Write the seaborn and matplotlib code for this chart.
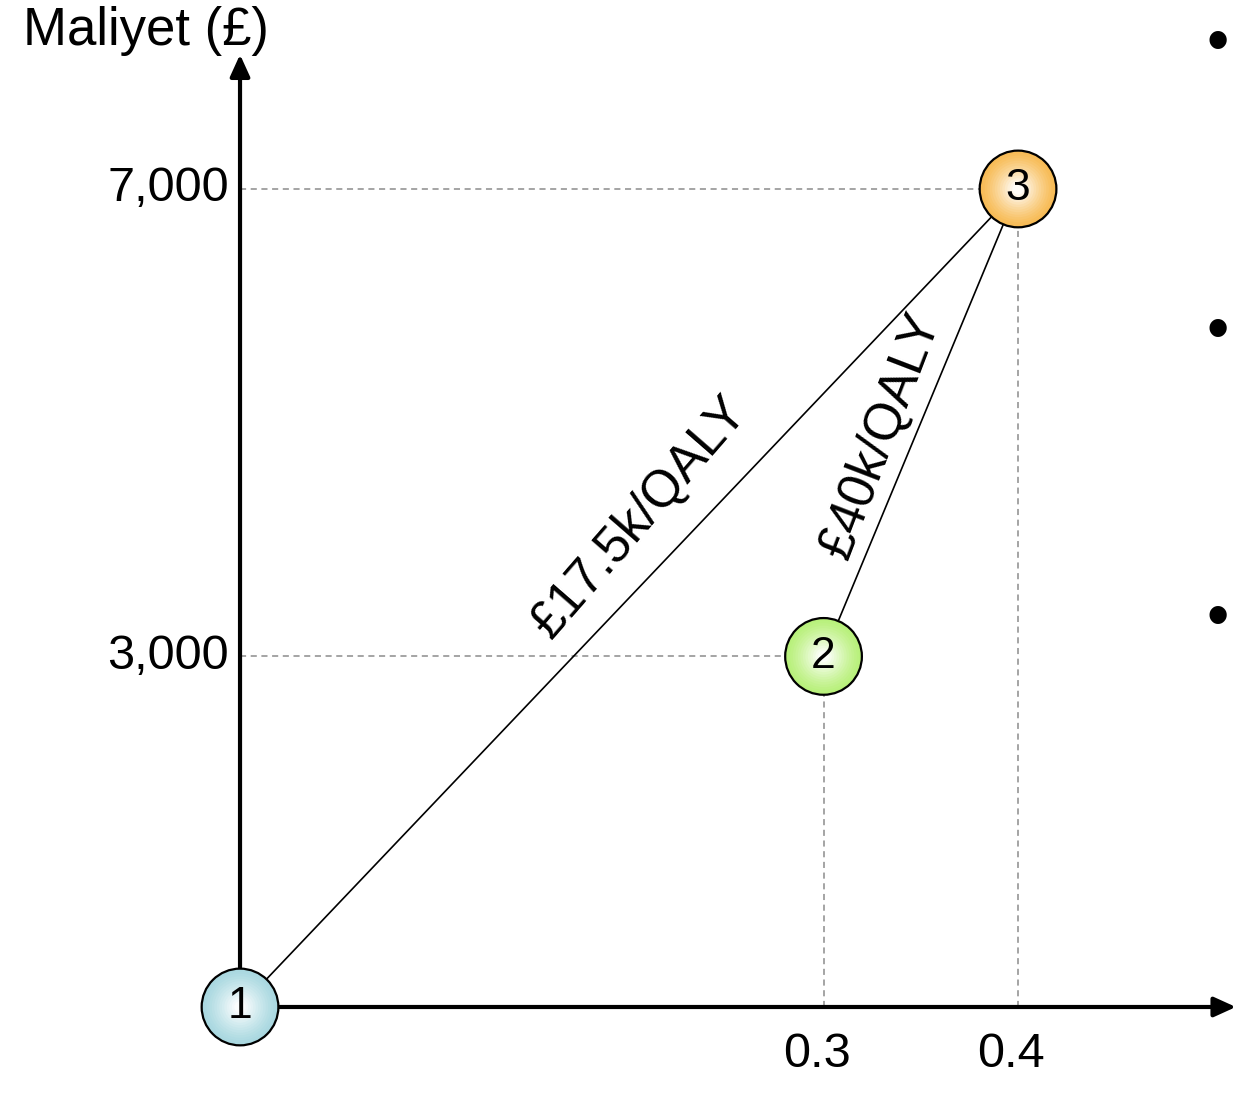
import numpy as np
import pandas as pd
import matplotlib
matplotlib.use("Agg")
import matplotlib.pyplot as plt
import seaborn as sns
from matplotlib.colors import to_rgb

# ---- data ----
strategies = ["1", "2", "3"]
qaly = [0.0, 0.3, 0.4]
cost = [0, 3000, 7000]
fill_colors = ["#a9d8e0", "#b8f07a", "#f7bb55"]
xticks = [0.3, 0.4]
xtick_labels = ["0.3", "0.4"]
yticks = [3000, 7000]
ytick_labels = ["3,000", "7,000"]
icer_pairs = [(0, 2), (1, 2)]
icer_labels = ["£17.5k/QALY", "£40k/QALY"]
y_title = "Maliyet (£)"

sns.set_theme(style="white")
plt.rcParams["font.family"] = ["Liberation Sans", "DejaVu Sans"]
plt.rcParams["text.color"] = "black"

df = pd.DataFrame({"strategy": strategies, "qaly": qaly, "cost": cost})

fig = plt.figure(figsize=(12.39, 11.02), dpi=100)
ax = fig.add_axes([0, 0, 1, 1])
ax.set_xlim(-0.1234, 0.5136)
ax.set_ylim(-813, 8617)
ax.axis("off")

# axes with arrows
ax.annotate("", xy=(0.512, 0), xytext=(0, 0),
            arrowprops=dict(arrowstyle="-|>,head_length=1.1,head_width=0.5",
                            color="black", lw=3, shrinkA=0, shrinkB=0))
ax.annotate("", xy=(0, 8150), xytext=(0, 0),
            arrowprops=dict(arrowstyle="-|>,head_length=1.1,head_width=0.5",
                            color="black", lw=3, shrinkA=0, shrinkB=0))

# dashed guide lines
for x, y in zip(df.qaly[1:], df.cost[1:]):
    ax.plot([0, x], [y, y], ls=(0, (4, 3)), color="#8c8c8c", lw=1.1, zorder=1)
    ax.plot([x, x], [0, y], ls=(0, (4, 3)), color="#8c8c8c", lw=1.1, zorder=1)

# connecting lines
for (i, j) in icer_pairs:
    ax.plot([qaly[i], qaly[j]], [cost[i], cost[j]], color="black", lw=1.2, zorder=2)

# circles with radial-ish gradient
base_size = 3050
n_layers = 14
for k in range(n_layers):
    t = k / (n_layers - 1)
    frac = 1 - 0.85 * t
    cols = []
    for c in fill_colors:
        rgb = np.array(to_rgb(c))
        cols.append(tuple(rgb + (1 - rgb) * (t ** 1.3) * 0.95))
    sns.scatterplot(data=df, x="qaly", y="cost", hue="strategy", palette=cols,
                    s=base_size * frac ** 2,
                    edgecolor="black" if k == 0 else "none",
                    linewidth=1.6 if k == 0 else 0,
                    legend=False, ax=ax, zorder=3 + k * 0.01)

for s, x, y in zip(strategies, qaly, cost):
    ax.text(x, y, s, ha="center", va="center", fontsize=32, zorder=5)

# tick labels
for v, lab in zip(yticks, ytick_labels):
    ax.annotate(lab, xy=(0, v), xytext=(-8, 0), textcoords="offset points",
                ha="right", va="center", fontsize=35)
for v, lab in zip(xticks, xtick_labels):
    ax.annotate(lab, xy=(v, 0), xytext=(-5, -34), textcoords="offset points",
                ha="center", va="center", fontsize=35)

ax.annotate(y_title, xy=(0, 8150), xytext=(-68, 17), textcoords="offset points",
            ha="center", va="center", fontsize=38)

# ICER labels
offsets = [(8, 58), (-29, -9)]
rots = [49, 69]
sizes = [37, 37]
for (i, j), lab, off, rot, fs in zip(icer_pairs, icer_labels, offsets, rots, sizes):
    mx = (qaly[i] + qaly[j]) / 2
    my = (cost[i] + cost[j]) / 2
    ax.annotate(lab, xy=(mx, my), xytext=off, textcoords="offset points",
                ha="center", va="center", rotation=rot,
                rotation_mode="anchor", fontsize=fs)

# bullets on right edge
for yb in [45, 333, 620]:
    fig.text(1218 / 1239, 1 - yb / 1102, "•", ha="center", va="center", fontsize=46)

fig.savefig("out.png", dpi=100)
